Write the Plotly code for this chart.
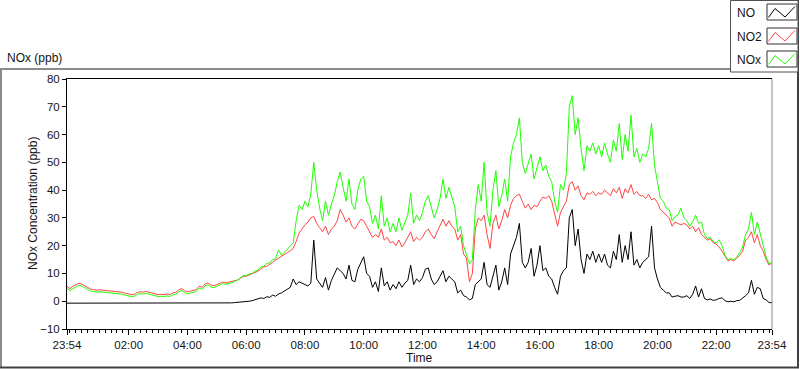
import plotly.graph_objects as go
import pandas as pd

# ---------------- data (6-minute samples, 23:54 -> 23:54) ----------------
times = pd.date_range("2014-01-01 23:54", "2014-01-02 23:54", freq="6min")

no2_ppb = [5.4,
    4.5, 5.4, 5.8, 6.4, 6.2, 5.6, 5.0, 4.4, 4.2, 4.0,          # 00
    4.1, 4.0, 4.0, 3.9, 3.8, 3.7, 3.6, 3.5, 3.2, 2.8,          # 01
    2.5, 2.4, 2.5, 3.2, 3.4, 3.3, 3.5, 3.2, 2.8, 2.5,          # 02
    2.4, 2.5, 2.4, 2.6, 2.4, 3.0, 3.2, 4.0, 4.6, 3.8,          # 03
    3.4, 3.6, 3.8, 4.2, 5.4, 5.0, 6.2, 6.6, 5.8, 5.6,          # 04
    6.0, 6.4, 6.9, 6.6, 6.8, 7.0, 7.4, 7.6, 8.2, 9.0,          # 05
    9.0, 9.4, 9.8, 10.2, 10.8, 11.6, 12.4, 12.6, 13.2, 14.0,   # 06
    14.8, 15.4, 16.0, 16.8, 17.5, 18.2, 19.0, 21.5, 24.5, 26.0,  # 07
    27.5, 28.5, 30.0, 30.5, 28.0, 26.5, 25.0, 27.0, 24.0, 26.0,  # 08
    27.0, 29.0, 33.0, 31.0, 28.5, 30.0, 27.0, 26.0, 28.0, 29.5,  # 09
    29.0, 27.0, 25.0, 23.0, 24.0, 23.0, 26.0, 22.0, 23.0, 21.0,  # 10
    21.5, 20.0, 22.0, 19.5, 21.0, 23.0, 25.0, 21.5, 23.0, 22.0,  # 11
    23.0, 25.0, 26.0, 24.0, 22.5, 25.0, 27.0, 29.5, 27.0, 29.0,  # 12
    27.0, 26.0, 22.0, 24.0, 17.0, 15.5, 7.0, 10.0, 26.0, 30.0,   # 13
    29.0, 31.0, 24.0, 19.0, 28.0, 31.0, 26.0, 29.0, 33.0, 30.0,  # 14
    34.5, 37.0, 38.0, 38.5, 36.0, 33.5, 35.0, 33.0, 34.5, 34.0,  # 15
    36.0, 37.5, 37.0, 38.0, 36.0, 31.0, 27.0, 32.0, 34.0, 36.0,  # 16
    42.0, 43.0, 40.0, 41.5, 38.0, 36.5, 39.0, 38.5, 39.5, 38.0,  # 17
    39.0, 38.5, 40.0, 39.0, 38.0, 40.5, 39.0, 41.0, 37.0, 40.5,  # 18
    39.0, 42.0, 38.5, 39.5, 38.0, 38.0, 37.0, 38.5, 36.5, 37.0,  # 19
    35.5, 33.0, 32.0, 31.0, 30.0, 27.0, 28.5, 28.0, 27.5, 28.0,  # 20
    27.5, 26.0, 27.0, 25.0, 26.5, 24.0, 23.0, 22.0, 22.5, 21.0,  # 21
    20.5, 19.5, 18.0, 16.0, 14.5, 15.0, 14.5, 15.5, 16.5, 18.0,  # 22
    22.0, 23.0, 25.0, 21.0, 24.0, 20.0, 18.0, 15.0, 13.0, 14.0]  # 23

nox_ppb = [4.7,
    3.8, 4.6, 5.0, 5.7, 5.5, 4.9, 4.3, 3.7, 3.5, 3.3,
    3.4, 3.3, 3.3, 3.2, 3.1, 3.0, 2.9, 2.8, 2.5, 2.1,
    1.8, 1.7, 1.8, 2.5, 2.7, 2.6, 2.8, 2.5, 2.1, 1.8,
    1.7, 1.8, 1.7, 1.9, 1.7, 2.3, 2.5, 3.3, 3.9, 3.1,
    2.7, 2.9, 3.1, 3.5, 4.7, 4.3, 5.5, 5.9, 5.1, 4.9,
    5.4, 5.8, 6.3, 6.1, 6.3, 6.6, 7.1, 7.6, 8.4, 9.2,
    9.2, 9.8, 10.0, 10.8, 11.2, 12.4, 12.6, 13.6, 13.8, 15.0,
    15.2, 18.5, 16.5, 17.6, 18.5, 19.8, 21.0, 29.0, 34.5, 33.0,
    36.0, 34.0, 38.5, 50.0, 40.0, 33.5, 29.0, 36.0, 31.0, 35.0,
    38.0, 43.0, 46.5, 41.0, 36.0, 44.0, 35.0, 33.0, 40.0, 44.0,
    45.0, 36.0, 34.0, 28.0, 31.0, 26.0, 38.0, 27.0, 30.0, 25.0,
    28.0, 25.0, 30.0, 25.5, 28.0, 31.0, 39.0, 28.0, 31.0, 29.0,
    32.0, 36.0, 38.0, 34.0, 30.0, 33.0, 37.0, 44.0, 37.0, 41.0,
    37.0, 34.0, 25.0, 27.0, 20.0, 16.5, 13.5, 15.0, 33.0, 42.0,
    36.0, 50.0, 32.0, 27.0, 40.0, 47.0, 34.0, 38.0, 44.0, 36.0,
    52.0, 57.0, 60.0, 66.0, 50.0, 46.0, 50.0, 53.0, 44.0, 48.0,
    52.0, 47.0, 49.0, 45.0, 43.0, 36.0, 32.0, 42.0, 40.0, 46.0,
    70.0, 74.0, 60.0, 66.0, 55.0, 47.0, 56.0, 54.0, 57.0, 53.0,
    56.0, 52.0, 57.0, 53.0, 50.0, 58.0, 54.0, 64.0, 51.0, 60.0,
    54.0, 67.0, 52.0, 55.0, 50.0, 53.0, 52.0, 55.0, 64.0, 49.0,
    43.0, 37.0, 36.0, 33.5, 33.0, 29.0, 30.5, 31.0, 33.5, 30.0,
    29.0, 27.0, 28.5, 31.0, 28.0, 28.5, 24.0, 22.5, 23.0, 21.5,
    21.0, 22.0, 20.0, 16.5, 15.0, 15.3, 15.0, 16.0, 17.5, 19.5,
    24.0, 26.0, 32.0, 24.0, 28.5, 24.0, 19.5, 16.0, 13.5, 14.0]

no_ppb = [-0.7,
    -0.7, -0.6, -0.7, -0.7, -0.8, -0.7, -0.6, -0.7, -0.7, -0.7,
    -0.7, -0.8, -0.7, -0.7, -0.6, -0.7, -0.7, -0.7, -0.8, -0.7,
    -0.7, -0.7, -0.7, -0.6, -0.7, -0.7, -0.7, -0.8, -0.7, -0.7,
    -0.7, -0.6, -0.7, -0.7, -0.7, -0.7, -0.8, -0.7, -0.7, -0.7,
    -0.8, -0.7, -0.7, -0.7, -0.6, -0.7, -0.7, -0.7, -0.6, -0.7,
    -0.7, -0.7, -0.6, -0.7, -0.6, -0.6, -0.5, -0.4, -0.3, -0.2,
    -0.3, 0.0, 0.2, 0.5, 0.8, 1.2, 1.0, 1.6, 1.4, 2.2,
    1.8, 2.6, 3.0, 3.6, 4.4, 5.0, 8.0, 6.0, 7.0, 6.4,
    6.0, 5.5, 6.5, 22.0, 8.0, 6.5, 5.0, 8.5, 4.0, 7.5,
    9.5, 12.0, 11.0, 10.0, 8.0, 13.0, 7.5, 7.0, 11.5, 14.0,
    16.0, 10.0, 9.0, 5.0, 7.0, 3.5, 12.0, 5.5, 7.0, 4.0,
    6.0, 4.5, 7.0, 5.0, 6.5, 7.5, 13.0, 6.0, 8.0, 7.0,
    8.5, 11.5, 12.0, 8.0, 6.0, 7.0, 9.0, 11.0, 7.0, 9.0,
    8.0, 7.0, 3.0, 4.0, 2.0, 1.5, 0.5, 1.0, 6.0, 7.0,
    8.0, 14.0, 6.0, 5.0, 9.0, 13.0, 4.0, 7.0, 12.0, 6.0,
    17.0, 20.0, 23.0, 28.0, 14.0, 12.0, 14.0, 19.0, 9.0, 13.0,
    20.0, 11.0, 12.0, 9.0, 8.0, 5.0, 2.5, 9.0, 11.0, 12.0,
    30.0, 33.0, 20.0, 26.0, 15.0, 10.0, 17.0, 15.0, 18.0, 14.0,
    17.0, 14.0, 17.0, 13.0, 12.0, 18.0, 15.0, 24.0, 14.0, 20.0,
    15.0, 25.0, 13.0, 15.0, 12.0, 14.0, 15.0, 16.0, 27.0, 12.0,
    8.0, 5.0, 4.0, 3.0, 3.0, 1.5, 1.8, 2.0, 1.5, 1.5,
    2.0, 1.0, 2.5, 5.5, 1.5, 4.5, 1.0, 0.5, 0.8, 0.3,
    0.5, 1.0, 1.2, 0.2, -0.2, 0.0, -0.2, 0.2, 0.3, 1.0,
    2.0, 3.0, 7.5, 2.5, 5.0, 4.5, 1.0, 0.5, -0.5, -0.5]

series_names = ["NO", "NO2", "NOx"]
series_colors = ["#000000", "#ff4444", "#1eff00"]

tick_times = ["2014-01-01 23:54", "2014-01-02 02:00", "2014-01-02 04:00",
              "2014-01-02 06:00", "2014-01-02 08:00", "2014-01-02 10:00",
              "2014-01-02 12:00", "2014-01-02 14:00", "2014-01-02 16:00",
              "2014-01-02 18:00", "2014-01-02 20:00", "2014-01-02 22:00",
              "2014-01-02 23:54"]
tick_labels = ["23:54", "02:00", "04:00", "06:00", "08:00", "10:00", "12:00",
               "14:00", "16:00", "18:00", "20:00", "22:00", "23:54"]

# ---------------- figure ----------------
W, H = 800, 369
PL, PR, PT, PB = 67, 772, 79, 329


def px(x):
    return (x - PL) / (PR - PL)


def py(y):
    return (PB - y) / (PB - PT)


FONT = "Liberation Sans, Arial, sans-serif"
TXT = "#141414"

fig = go.Figure()
for name, vals, col in zip(series_names, [no_ppb, no2_ppb, nox_ppb], series_colors):
    fig.add_trace(go.Scatter(x=times, y=vals, mode="lines", name=name,
                             line=dict(color=col, width=1), showlegend=False))

fig.update_layout(
    width=W, height=H,
    margin=dict(l=PL, r=W - PR, t=PT, b=H - PB),
    paper_bgcolor="white", plot_bgcolor="white",
    font=dict(family=FONT, size=12, color=TXT),
    showlegend=False,
)
fig.update_xaxes(
    range=[times[0], times[-1]],
    tickmode="array", tickvals=tick_times, ticktext=tick_labels,
    ticks="outside", ticklen=5, tickwidth=1, tickcolor="black",
    tickfont=dict(size=11.5, color=TXT),
    minor=dict(ticks="outside", ticklen=3, tickwidth=1, tickcolor="black",
               dtick=12 * 60 * 1000, tick0="2014-01-02 00:00", showgrid=False),
    showline=True, linecolor="black", linewidth=1, mirror=True,
    showgrid=False, zeroline=False,
)
fig.update_yaxes(
    range=[-10, 80], tickmode="linear", tick0=-10, dtick=10,
    ticks="outside", ticklen=4, tickwidth=1, tickcolor="black",
    tickfont=dict(size=11.5, color=TXT),
    showline=True, linecolor="black", linewidth=1, mirror=False,
    showgrid=False, zeroline=False,
)

shapes = []
# right border of plot area (grey)
shapes.append(dict(type="line", xref="paper", yref="paper", x0=1, x1=1, y0=0, y1=1,
                   line=dict(color="#8c8c8c", width=1)))
# outer frame
shapes.append(dict(type="line", xref="paper", yref="paper", x0=px(0), x1=px(730),
                   y0=py(69), y1=py(69), line=dict(color="#8c8c8c", width=2)))
shapes.append(dict(type="line", xref="paper", yref="paper", x0=px(1), x1=px(1),
                   y0=py(69), y1=py(368), line=dict(color="#8c8c8c", width=2)))
shapes.append(dict(type="line", xref="paper", yref="paper", x0=px(0), x1=px(799),
                   y0=py(367.5), y1=py(367.5), line=dict(color="#404040", width=2)))
shapes.append(dict(type="line", xref="paper", yref="paper", x0=px(798), x1=px(798),
                   y0=py(0), y1=py(368), line=dict(color="#404040", width=2)))
# legend box
shapes.append(dict(type="rect", xref="paper", yref="paper", x0=px(730.5), x1=px(798),
                   y0=py(0.5), y1=py(72), fillcolor="white",
                   line=dict(color="#505050", width=1)))

annotations = []
leg_rows = [(4, 20, 13), (28, 44, 37), (51, 67, 60)]
for (y0, y1, yc), name, col in zip(leg_rows, series_names, series_colors):
    x0, x1 = 767, 797
    shapes.append(dict(type="rect", xref="paper", yref="paper", x0=px(x0), x1=px(x1),
                       y0=py(y0), y1=py(y1), fillcolor="white",
                       line=dict(color="#303030", width=1)))
    pts = [(x0 + 1.5, y1 - 2.5), (x0 + 8, y0 + 4.5), (x0 + 18, y1 - 3), (x1 - 2, y0 + 2.5)]
    path = "M " + " L ".join(f"{px(a):.5f},{py(b):.5f}" for a, b in pts)
    shapes.append(dict(type="path", xref="paper", yref="paper", path=path,
                       line=dict(color=col, width=1)))
    annotations.append(dict(text=name, xref="paper", yref="paper", x=px(735), y=py(yc),
                            xanchor="left", yanchor="middle", showarrow=False,
                            font=dict(size=12, color=TXT)))

annotations.append(dict(text="NOx (ppb)", xref="paper", yref="paper", x=px(5), y=py(58),
                        xanchor="left", yanchor="middle", showarrow=False,
                        font=dict(size=12, color=TXT)))
annotations.append(dict(text="NOx Concentration (ppb)", xref="paper", yref="paper",
                        x=px(33), y=py(204), textangle=-90, xanchor="center",
                        yanchor="middle", showarrow=False, font=dict(size=12, color=TXT)))
annotations.append(dict(text="Time", xref="paper", yref="paper", x=px(419.5), y=py(358),
                        xanchor="center", yanchor="middle", showarrow=False,
                        font=dict(size=12, color=TXT)))

fig.update_layout(shapes=shapes, annotations=annotations)
fig.write_html("out.html", config={"displayModeBar": False},
               post_script="document.body.style.margin='0';document.body.style.padding='0';")
